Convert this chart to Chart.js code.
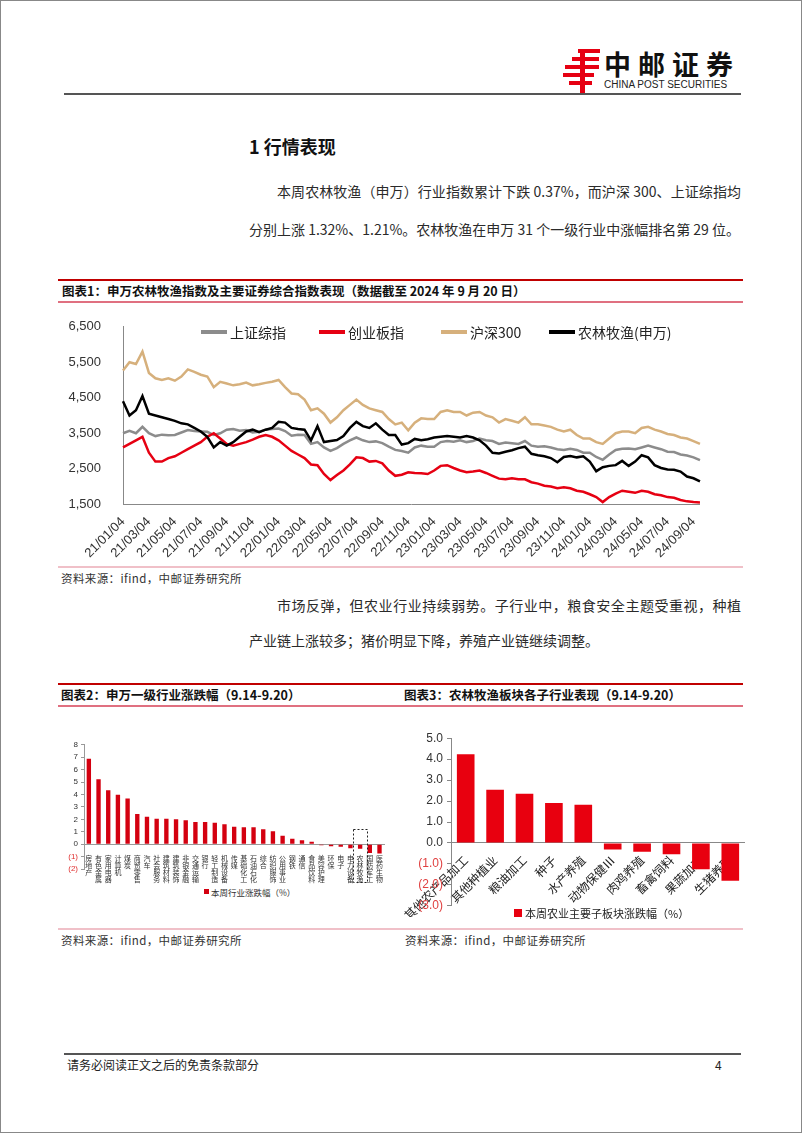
<!DOCTYPE html>
<html>
<head>
<meta charset="utf-8">
<script src="https://cdn.jsdelivr.net/npm/chart.js@4.4.1/dist/chart.umd.min.js"></script>
<style>
  html, body { margin: 0; padding: 0; background: #fff; }
  #page { position: relative; width: 800px; height: 1131px; border: 1px solid #888; overflow: hidden;
          font-family: "Noto Sans CJK SC", "Noto Sans", sans-serif; color: #222; }
  .abs { position: absolute; white-space: nowrap; }
  .rule { position: absolute; }
  .body { font-size: 14px; line-height: 20px; color: #2a2a2a; }
  .cap { font-size: 12.5px; font-weight: bold; line-height: 20px; color: #111; }
  .src { font-size: 11.5px; line-height: 16px; letter-spacing: 0.4px; color: #333; }
  .box { position: absolute; }
</style>
</head>
<body>
<div id="page">
  <!-- header -->
  <svg class="abs" style="left:562px;top:47px" width="38" height="46" viewBox="0 0 38 46">
    <g fill="#e60012">
      <rect x="15" y="1" width="22" height="4"/>
      <rect x="9" y="9" width="27" height="4"/>
      <rect x="2" y="17" width="34" height="4"/>
      <rect x="0" y="25" width="31" height="4"/>
      <rect x="6" y="33" width="23" height="4"/>
      <rect x="17" y="1" width="5" height="44"/>
    </g>
  </svg>
  <div class="abs" style="left:603px;top:46px;font-size:27px;font-weight:bold;letter-spacing:7px;line-height:34px;color:#111">中邮证券</div>
  <div class="abs" style="left:603px;top:78px;font-size:10px;line-height:12px;font-family:'Liberation Sans',Arial;color:#222">CHINA POST SECURITIES</div>
  <div class="rule" style="left:63px;top:92px;width:677px;height:2px;background:#555"></div>

  <div class="abs" style="left:248px;top:132px;font-size:18px;font-weight:bold;line-height:26px;color:#111">1 行情表现</div>

  <div class="abs body" style="left:276px;top:180px;width:464px;text-align:justify;text-align-last:justify">本周农林牧渔（申万）行业指数累计下跌 0.37%，而沪深 300、上证综指均</div>
  <div class="abs body" style="left:248px;top:218px">分别上涨 1.32%、1.21%。农林牧渔在申万 31 个一级行业中涨幅排名第 29 位。</div>

  <!-- figure 1 -->
  <div class="rule" style="left:57px;top:278px;width:685px;height:2px;background:#c00000"></div>
  <div class="abs cap" style="left:61px;top:280px">图表1：申万农林牧渔指数及主要证券综合指数表现（数据截至 2024 年 9 月 20 日）</div>
  <div class="rule" style="left:57px;top:300px;width:685px;height:2px;background:#e07080"></div>

  <div class="box" style="left:60px;top:304px;width:652px;height:258px"><canvas id="c1"></canvas></div>
  <div class="rule" style="left:200px;top:329px;width:26px;height:4px;background:#8c8c8c"></div>
  <div class="abs" style="left:229px;top:321px;font-size:14px;line-height:20px">上证综指</div>
  <div class="rule" style="left:318px;top:329px;width:26px;height:4px;background:#e60012"></div>
  <div class="abs" style="left:347px;top:321px;font-size:14px;line-height:20px">创业板指</div>
  <div class="rule" style="left:440px;top:329px;width:26px;height:4px;background:#d6b07c"></div>
  <div class="abs" style="left:469px;top:321px;font-size:14px;line-height:20px">沪深300</div>
  <div class="rule" style="left:548px;top:329px;width:26px;height:4px;background:#000"></div>
  <div class="abs" style="left:577px;top:321px;font-size:14px;line-height:20px">农林牧渔(申万)</div>

  <div class="rule" style="left:57px;top:565px;width:685px;height:2px;background:#f0c0c8"></div>
  <div class="abs src" style="left:60px;top:569px">资料来源：ifind，中邮证券研究所</div>

  <div class="abs body" style="left:276px;top:594px;width:464px;text-align:justify;text-align-last:justify">市场反弹，但农业行业持续弱势。子行业中，粮食安全主题受重视，种植</div>
  <div class="abs body" style="left:248px;top:629px">产业链上涨较多；猪价明显下降，养殖产业链继续调整。</div>

  <!-- figures 2 & 3 -->
  <div class="rule" style="left:57px;top:682px;width:685px;height:2px;background:#c00000"></div>
  <div class="abs cap" style="left:60px;top:684px">图表2：申万一级行业涨跌幅（9.14-9.20）</div>
  <div class="abs cap" style="left:403px;top:684px">图表3：农林牧渔板块各子行业表现（9.14-9.20）</div>
  <div class="rule" style="left:57px;top:704px;width:685px;height:2px;background:#e07080"></div>

  <div class="box" style="left:57px;top:736px;width:328px;height:148px"><canvas id="c2"></canvas></div>
  <div class="rule" style="left:203px;top:888px;width:5px;height:5px;background:#d40010"></div>
  <div class="abs" style="left:210px;top:885px;font-size:8.5px;line-height:12px;color:#333">本周行业涨跌幅（%）</div>

  <div class="box" style="left:400px;top:726px;width:344px;height:190px"><canvas id="c3"></canvas></div>
  <div class="rule" style="left:513px;top:908px;width:8px;height:8px;background:#e8000f"></div>
  <div class="abs" style="left:524px;top:904px;font-size:11px;line-height:16px;color:#222">本周农业主要子板块涨跌幅（%）</div>

  <div class="rule" style="left:57px;top:927px;width:685px;height:2px;background:#f0c0c8"></div>
  <div class="abs src" style="left:60px;top:931px">资料来源：ifind，中邮证券研究所</div>
  <div class="abs src" style="left:404px;top:931px">资料来源：ifind，中邮证券研究所</div>

  <!-- footer -->
  <div class="rule" style="left:63px;top:1052px;width:677px;height:2px;background:#555"></div>
  <div class="abs" style="left:66px;top:1056px;font-size:12px;line-height:16px;color:#222">请务必阅读正文之后的免责条款部分</div>
  <div class="abs" style="left:714px;top:1056px;font-size:12px;line-height:16px;color:#222">4</div>
</div>

<script>
  // ---- figure 1: index levels, sampled twice a month ----
  var dateLabels = [
    "21/01/04", "21/01/18", "21/02/04", "21/02/18", "21/03/04", "21/03/18", "21/04/04", "21/04/18",
    "21/05/04", "21/05/18", "21/06/04", "21/06/18", "21/07/04", "21/07/18", "21/08/04", "21/08/18",
    "21/09/04", "21/09/18", "21/10/04", "21/10/18", "21/11/04", "21/11/18", "21/12/04", "21/12/18",
    "22/01/04", "22/01/18", "22/02/04", "22/02/18", "22/03/04", "22/03/18", "22/04/04", "22/04/18",
    "22/05/04", "22/05/18", "22/06/04", "22/06/18", "22/07/04", "22/07/18", "22/08/04", "22/08/18",
    "22/09/04", "22/09/18", "22/10/04", "22/10/18", "22/11/04", "22/11/18", "22/12/04", "22/12/18",
    "23/01/04", "23/01/18", "23/02/04", "23/02/18", "23/03/04", "23/03/18", "23/04/04", "23/04/18",
    "23/05/04", "23/05/18", "23/06/04", "23/06/18", "23/07/04", "23/07/18", "23/08/04", "23/08/18",
    "23/09/04", "23/09/18", "23/10/04", "23/10/18", "23/11/04", "23/11/18", "23/12/04", "23/12/18",
    "24/01/04", "24/01/18", "24/02/04", "24/02/18", "24/03/04", "24/03/18", "24/04/04", "24/04/18",
    "24/05/04", "24/05/18", "24/06/04", "24/06/18", "24/07/04", "24/07/18", "24/08/04", "24/08/18",
    "24/09/04", "24/09/20"
  ];

  var shComposite = [ // 上证综指
    3500, 3570, 3500, 3680, 3500, 3420, 3460, 3440, 3450, 3520, 3590, 3560, 3550, 3540, 3450, 3500, 3600, 3620, 3570, 3590, 3520, 3540, 3600, 3620,
    3630, 3560, 3430, 3460, 3450, 3200, 3250, 3100, 3000, 3080, 3200, 3300, 3380, 3300, 3250, 3270, 3220, 3120, 3030, 3000, 2950, 3100, 3150, 3120,
    3120, 3250, 3280, 3260, 3300, 3250, 3280, 3350, 3300, 3280, 3200, 3240, 3220, 3200, 3280, 3150, 3120, 3130, 3100, 3050, 3030, 3060, 3030, 2950,
    2950, 2830, 2750, 2900, 3030, 3060, 3070, 3050, 3100, 3150, 3100, 3050, 2980, 2970, 2900, 2870, 2820, 2740
  ];
  var chinext = [ // 创业板指
    3100, 3200, 3300, 3400, 2950, 2700, 2700, 2800, 2850, 2950, 3050, 3150, 3250, 3400, 3500, 3350, 3200, 3150, 3200, 3250, 3320, 3400, 3450, 3400,
    3300, 3150, 3000, 2900, 2800, 2620, 2600, 2350, 2180, 2320, 2450, 2620, 2820, 2800, 2700, 2720, 2650, 2450, 2300, 2330, 2400, 2380, 2370, 2350,
    2450, 2580, 2600, 2520, 2450, 2400, 2420, 2450, 2380, 2300, 2220, 2200, 2230, 2200, 2200, 2120, 2080, 2020, 2000, 1950, 1980, 1950, 1880, 1850,
    1780, 1700, 1560, 1700, 1800, 1880, 1850, 1820, 1880, 1850, 1780, 1750, 1700, 1680, 1620, 1580, 1560, 1550
  ];
  var csi300 = [ // 沪深300
    5270, 5500, 5450, 5800, 5200, 5050, 5000, 5050, 4980, 5100, 5300, 5230, 5150, 5100, 4800, 4950, 4900, 4850, 4880, 4930, 4850, 4880, 4920, 4950,
    5000, 4800, 4620, 4600, 4450, 4150, 4200, 4050, 3800, 3950, 4150, 4300, 4450, 4300, 4200, 4150, 4100, 3900, 3750, 3800, 3580, 3800, 3920, 3900,
    3900, 4100, 4150, 4100, 4100, 4000, 4080, 4100, 4000, 3950, 3800, 3900, 3850, 3800, 3950, 3750, 3750, 3720, 3680, 3600, 3550, 3600, 3450, 3350,
    3350, 3250, 3200, 3350, 3500, 3550, 3550, 3500, 3650, 3680, 3600, 3550, 3480, 3450, 3380, 3350, 3280, 3200
  ];
  var swAgri = [ // 农林牧渔(申万)
    4400, 4000, 4150, 4550, 4050, 4000, 3950, 3900, 3850, 3780, 3750, 3650, 3550, 3400, 3100, 3250, 3150, 3250, 3400, 3550, 3600, 3530, 3600, 3650,
    3820, 3800, 3650, 3620, 3600, 3300, 3700, 3250, 3280, 3310, 3420, 3650, 3820, 3700, 3650, 3780, 3600, 3450, 3450, 3180, 3220, 3340, 3300, 3330,
    3380, 3400, 3420, 3400, 3380, 3420, 3380, 3300, 3150, 2950, 2930, 2980, 3020, 3080, 3120, 2920, 2880, 2850, 2800, 2680, 2830, 2860, 2820, 2850,
    2700, 2430, 2540, 2580, 2600, 2720, 2580, 2700, 2880, 2820, 2600, 2520, 2480, 2470, 2420, 2280, 2230, 2140
  ];

  // ---- figure 2: Shenwan level-1 industries, weekly change (%) ----
  var industryNames = ["房地产", "有色金属", "家用电器", "计算机", "煤炭", "商贸零售", "汽车", "社会服务",
    "建筑材料", "建筑装饰", "非银金融", "交通运输", "银行", "轻工制造", "机械设备", "传媒",
    "基础化工", "石油石化", "综合", "纺织服饰", "公用事业", "钢铁", "通信", "食品饮料",
    "美容护理", "环保", "电子", "电力设备", "农林牧渔", "国防军工", "医药生物"];
  var industryChange = [6.88, 5.23, 4.35, 3.97, 3.68, 2.43, 2.21, 2.05,
    2.05, 2.0, 1.92, 1.79, 1.79, 1.73, 1.6, 1.41,
    1.36, 1.36, 1.2, 1.04, 0.67, 0.43, 0.32, 0.19,
    -0.08, -0.16, -0.21, -0.33, -0.37, -0.72, -0.76];

  // ---- figure 3: agriculture sub-sectors, weekly change (%) ----
  var subNames = ["其他农产品加工", "其他种植业", "粮油加工", "种子", "水产养殖",
    "动物保健Ⅲ", "肉鸡养殖", "畜禽饲料", "果蔬加工", "生猪养殖"];
  var subChange = [4.23, 2.54, 2.35, 1.91, 1.82, -0.31, -0.42, -0.54, -1.26, -1.8];

  Chart.defaults.font.family = "'Liberation Sans', Arial, 'Noto Sans CJK SC', sans-serif";
  Chart.defaults.color = '#333';

  new Chart(document.getElementById('c1'), {
    type: 'line',
    data: {
      labels: dateLabels,
      datasets: [
        { label: '农林牧渔(申万)', data: swAgri, borderColor: '#000000' },
        { label: '创业板指', data: chinext, borderColor: '#e60012' },
        { label: '上证综指', data: shComposite, borderColor: '#8c8c8c' },
        { label: '沪深300', data: csi300, borderColor: '#d6b07c' }
      ]
    },
    options: {
      responsive: true,
      maintainAspectRatio: false,
      animation: false,
      layout: { padding: { top: 5, right: 0, bottom: 0, left: 0 } },
      elements: { point: { radius: 0 }, line: { borderWidth: 2.5, tension: 0 } },
      plugins: { legend: { display: false }, tooltip: { enabled: false } },
      scales: {
        x: {
          grid: { display: false },
          border: { color: '#888' },
          ticks: {
            autoSkip: false, maxRotation: 45, minRotation: 45, padding: 2,
            font: { size: 13 },
            callback: function (v, i) { return i % 4 === 0 ? this.getLabelForValue(v) : ''; }
          }
        },
        y: {
          min: 1500, max: 6500,
          grid: { display: false },
          border: { color: '#888' },
          ticks: {
            stepSize: 1000, padding: 14, font: { size: 13 },
            callback: function (v) { return v.toLocaleString('en-US'); }
          },
          afterFit: function (s) { s.width = 62; }
        }
      }
    }
  });

  // dashed frame around the 农林牧渔 label
  var frameAgri = {
    id: 'frameAgri',
    afterDraw: function (chart) {
      var xs = chart.scales.x, ys = chart.scales.y, ctx = chart.ctx;
      var cx = xs.getPixelForValue(industryNames.indexOf('农林牧渔'));
      var top = ys.getPixelForValue(1.2), bottom = ys.getPixelForValue(-3.1);
      ctx.save();
      ctx.setLineDash([2, 2]);
      ctx.strokeStyle = '#222';
      ctx.lineWidth = 1;
      ctx.strokeRect(Math.round(cx - 7) + 0.5, Math.round(top) + 0.5, 14, Math.round(bottom - top));
      ctx.restore();
    }
  };

  new Chart(document.getElementById('c2'), {
    type: 'bar',
    data: {
      labels: industryNames.map(function (n) { return n.split(''); }),
      datasets: [{ label: '本周行业涨跌幅（%）', data: industryChange, backgroundColor: '#d40010',
        categoryPercentage: 1, barPercentage: 0.45 }]
    },
    options: {
      responsive: true,
      maintainAspectRatio: false,
      animation: false,
      layout: { padding: { top: 4, right: 0, bottom: 16, left: 0 } },
      plugins: { legend: { display: false }, tooltip: { enabled: false } },
      scales: {
        x: {
          position: { y: 0 },
          grid: { display: false },
          border: { color: '#999' },
          ticks: { autoSkip: false, maxRotation: 0, minRotation: 0, padding: 3,
            font: { size: 7, lineHeight: 1, family: "'Noto Sans CJK SC', sans-serif" }, color: '#333' }
        },
        y: {
          min: -2, max: 8,
          grid: { drawOnChartArea: false, tickLength: 3, color: '#999' },
          border: { color: '#999' },
          ticks: {
            stepSize: 1, padding: 3, font: { size: 8 },
            color: function (c) { return c.tick.value < 0 ? '#e03030' : '#333'; },
            callback: function (v) { return v < 0 ? '(' + (-v) + ')' : v; }
          },
          afterFit: function (s) { s.width = 26; }
        }
      }
    },
    plugins: [frameAgri]
  });

  new Chart(document.getElementById('c3'), {
    type: 'bar',
    data: {
      labels: subNames,
      datasets: [{ label: '本周农业主要子板块涨跌幅（%）', data: subChange, backgroundColor: '#e8000f',
        categoryPercentage: 1, barPercentage: 0.6 }]
    },
    options: {
      responsive: true,
      maintainAspectRatio: false,
      animation: false,
      layout: { padding: { top: 3, right: 0, bottom: 2, left: 0 } },
      plugins: { legend: { display: false }, tooltip: { enabled: false } },
      scales: {
        x: {
          position: { y: 0 },
          grid: { display: false },
          border: { color: '#888' },
          ticks: { autoSkip: false, maxRotation: 45, minRotation: 45, padding: 2,
            font: { size: 12, family: "'Noto Sans CJK SC', sans-serif" }, color: '#222' }
        },
        y: {
          min: -3, max: 5,
          grid: { drawOnChartArea: false, tickLength: 4, color: '#888' },
          border: { color: '#888' },
          ticks: {
            stepSize: 1, padding: 4, font: { size: 12 },
            color: function (c) { return c.tick.value < 0 ? '#e04040' : '#333'; },
            callback: function (v) { return v < 0 ? '(' + (-v).toFixed(1) + ')' : v.toFixed(1); }
          },
          afterFit: function (s) { s.width = 50; }
        }
      }
    }
  });
</script>
</body>
</html>
